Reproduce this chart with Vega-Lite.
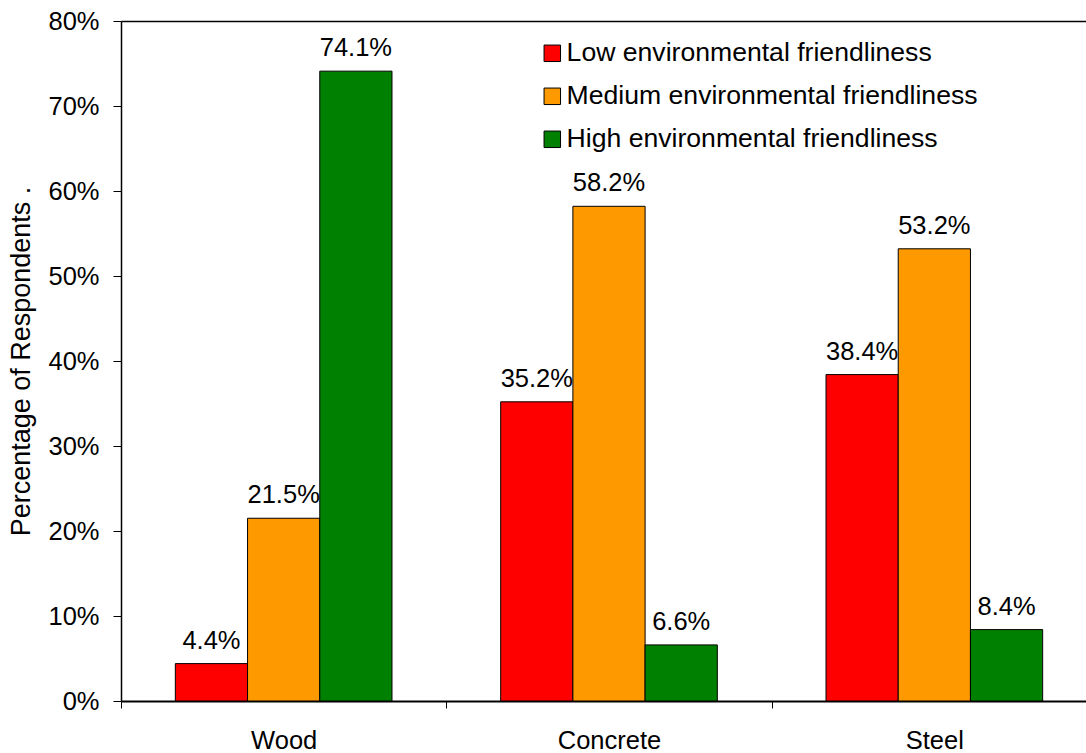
{
  "$schema": "https://vega.github.io/schema/vega-lite/v6.json",
  "width": 965,
  "height": 680,
  "autosize": "none",
  "padding": {"left": 121, "top": 21, "right": 0, "bottom": 52},
  "background": "white",
  "config": {
    "view": {"stroke": null},
    "font": "Liberation Sans",
    "text": {"font": "Liberation Sans"}
  },
  "data": {
    "values": [
      {"material": "Wood", "level": "Low environmental friendliness", "pct": 0.044},
      {"material": "Wood", "level": "Medium environmental friendliness", "pct": 0.215},
      {"material": "Wood", "level": "High environmental friendliness", "pct": 0.741},
      {"material": "Concrete", "level": "Low environmental friendliness", "pct": 0.352},
      {"material": "Concrete", "level": "Medium environmental friendliness", "pct": 0.582},
      {"material": "Concrete", "level": "High environmental friendliness", "pct": 0.066},
      {"material": "Steel", "level": "Low environmental friendliness", "pct": 0.384},
      {"material": "Steel", "level": "Medium environmental friendliness", "pct": 0.532},
      {"material": "Steel", "level": "High environmental friendliness", "pct": 0.084}
    ]
  },
  "encoding": {
    "x": {
      "field": "material",
      "type": "nominal",
      "sort": ["Wood", "Concrete", "Steel"],
      "scale": {"range": [0, 976], "paddingInner": 0, "paddingOuter": 0},
      "axis": {
        "title": null,
        "labelAngle": 0,
        "labelFontSize": 25.5,
        "labelColor": "black",
        "labelPadding": 20,
        "tickBand": "extent",
        "tickSize": 7,
        "tickColor": "black",
        "tickWidth": 1,
        "domainColor": "black",
        "domainWidth": 2
      }
    },
    "xOffset": {
      "field": "level",
      "type": "nominal",
      "sort": ["Low environmental friendliness", "Medium environmental friendliness", "High environmental friendliness"],
      "scale": {"paddingInner": 0, "paddingOuter": 0.7525}
    },
    "y": {
      "field": "pct",
      "type": "quantitative",
      "scale": {"domain": [0, 0.8], "nice": false},
      "axis": {
        "values": [0, 0.1, 0.2, 0.3, 0.4, 0.5, 0.6, 0.7, 0.8],
        "format": ".0%",
        "labelFontSize": 25.5,
        "labelColor": "black",
        "labelPadding": 14,
        "tickSize": 8,
        "tickColor": "black",
        "tickWidth": 1,
        "domainColor": "black",
        "domainWidth": 1.5,
        "grid": true,
        "gridColor": "black",
        "gridWidth": 1.5,
        "gridOpacity": {"condition": {"test": "datum.value >= 0.799", "value": 1}, "value": 0},
        "title": "Percentage of Respondents .",
        "titleFontSize": 27,
        "titleFontWeight": "normal",
        "titleColor": "black",
        "titlePadding": 12
      }
    }
  },
  "layer": [
    {
      "mark": {"type": "bar", "stroke": "black", "strokeWidth": 1},
      "encoding": {
        "color": {
          "field": "level",
          "type": "nominal",
          "scale": {
            "domain": ["Low environmental friendliness", "Medium environmental friendliness", "High environmental friendliness"],
            "range": ["#FF0000", "#FF9900", "#008000"]
          },
          "legend": {
            "title": null,
            "orient": "none",
            "legendX": 418,
            "legendY": 19,
            "padding": 0,
            "labelFontSize": 26.6,
            "labelColor": "black",
            "labelFont": "Liberation Sans",
            "labelLimit": 600,
            "symbolType": "square",
            "symbolSize": 272,
            "symbolStrokeColor": "black",
            "symbolStrokeWidth": 1,
            "symbolOpacity": 1,
            "rowPadding": 16,
            "labelOffset": 1,
            "symbolOffset": 0
          }
        }
      }
    },
    {
      "mark": {"type": "text", "dy": -15, "baseline": "alphabetic", "fontSize": 25.5, "color": "black"},
      "encoding": {
        "text": {"field": "pct", "type": "quantitative", "format": ".1%"}
      }
    }
  ]
}
